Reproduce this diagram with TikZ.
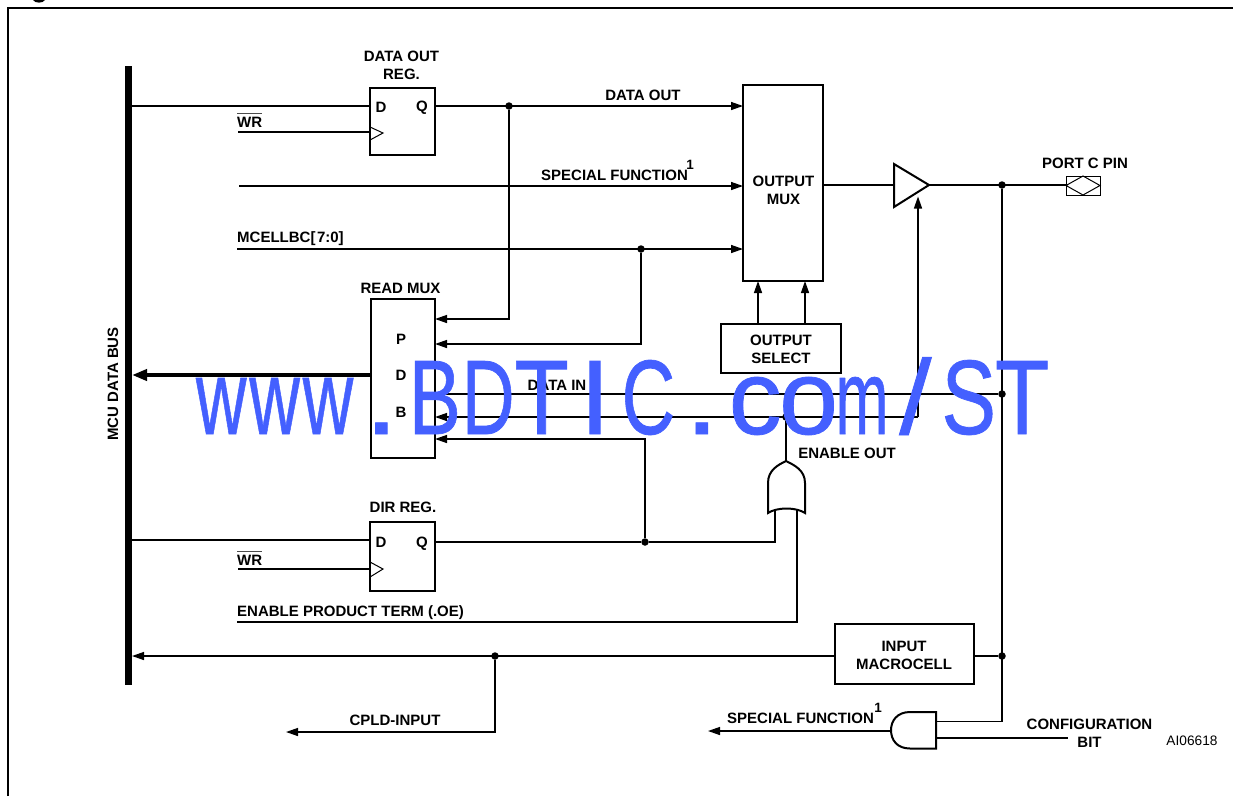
\documentclass[tikz,border=0pt]{standalone}
\usepackage{fontspec}
\setmainfont{Liberation Sans}
\usetikzlibrary{arrows.meta}
\definecolor{wm}{RGB}{68,96,255}
\newfontfamily\wmfont[FakeBold=0.7]{Liberation Sans}
\newcommand{\wl}[2]{\makebox[53.4pt][c]{\scalebox{#1}[1]{#2}}}
\tikzset{
  wire/.style={line width=1.4pt,line join=miter},
  arr/.style={wire,-{Triangle[length=12pt,width=8pt]}},
  thickarr/.style={line width=3.8pt,-{Triangle[length=15pt,width=11pt]}},
  box/.style={draw,line width=2pt,rectangle,inner sep=0pt,outer sep=0pt,fill=white},
  gate/.style={draw,line width=2pt,fill=white,line join=miter},
  lab/.style={font=\bfseries\fontsize{15}{18}\selectfont,inner sep=0pt,align=center},
  sup/.style={font=\bfseries\fontsize{13.5}{15}\selectfont,inner sep=0pt},
  dotnode/.style={circle,fill=black,inner sep=0pt,minimum size=7.5pt},
  overbar/.style={line width=.9pt,black!70},
}
\begin{document}
\begin{tikzpicture}[x=1pt,y=-1pt]
\useasboundingbox (0,0) rectangle (1233,796);
\fill (33,0) .. controls (35,3.5) and (43,3.5) .. (45,0) -- cycle;
% frame
\draw[line width=2pt] (8,796) -- (8,8) -- (1233,8);
% bus
\node[fill=black,inner sep=0pt,outer sep=0pt,minimum width=7pt,minimum height=619pt] (bus) at (128.5,375.5) {};
\node[lab,rotate=90] (buslab) at (113,384) {MCU DATA BUS};
% boxes
\node[box,minimum width=65pt,minimum height=67pt] (regA) at (402.5,121.5) {};
\node[box,minimum width=65pt,minimum height=69pt] (regB) at (402.5,556.5) {};
\node[box,minimum width=64pt,minimum height=159pt] (rmux) at (403,378.5) {};
\node[box,minimum width=80pt,minimum height=196pt] (omux) at (783,183) {};
\node[box,minimum width=120pt,minimum height=49pt] (osel) at (781,348.5) {};
\node[box,minimum width=139pt,minimum height=60pt] (imc) at (904.5,654) {};
\node[draw,line width=1pt,inner sep=0pt,outer sep=0pt,minimum width=34pt,minimum height=19pt] (port) at (1083,185.5) {};
% coordinates
\coordinate (wrA) at (238,132);
\coordinate (wrB) at (238,569);
\coordinate (sfs) at (239,186);
\coordinate (mcs) at (237,249);
\coordinate (eps) at (237,622);
\coordinate (cfg) at (1068,738);
\coordinate (cplde) at (286,732);
\coordinate (sfe) at (708,731);
\coordinate (bufin) at (894,185);
\coordinate (bufout) at (929,185);
\coordinate (buftop) at (894,164);
\coordinate (bufbot) at (894,207);
\coordinate (bufen) at (918,196.5);
\coordinate (orout) at (786,461);
\coordinate (orA) at (775,510);
\coordinate (orB) at (797,510);
\coordinate (andA) at (936,721.5);
\coordinate (andB) at (936,738);
\coordinate (andO) at (891,731);
% dots
\node[dotnode] (j1) at (509,106) {};
\node[dotnode] (j2) at (641,249) {};
\node[dotnode] (j3) at (1002,185) {};
\node[dotnode] (j4) at (1002,394) {};
\node[dotnode] (j5) at (786,417) {};
\node[dotnode] (j6) at (645,542) {};
\node[dotnode] (j7) at (1002,656) {};
\node[dotnode] (j8) at (495,656) {};
% wires
\draw[wire] (bus.east |- 0,106) -- (regA.west |- 0,106);
\draw[wire] (wrA) -- (regA.west |- wrA);
\draw[arr] (regA.east |- j1) -- (omux.west |- j1);
\draw[arr] (j1) -- (j1 |- 0,319) -- (rmux.east |- 0,319);
\draw[arr] (sfs) -- (omux.west |- sfs);
\draw[arr] (mcs) -- (omux.west |- mcs);
\draw[arr] (j2) -- (j2 |- 0,344) -- (rmux.east |- 0,344);
\draw[thickarr] (rmux.west |- 0,375) -- (bus.east |- 0,375);
\draw[wire] (rmux.east |- j4) -- (j4);
\draw[arr] (bufen |- j5) -- (rmux.east |- j5);
\draw[arr] (bufen |- j5) -- (bufen);
\draw[arr] (j6) -- (j6 |- 0,439) -- (rmux.east |- 0,439);
\draw[wire] (j5) -- (orout);
\draw[wire] (regB.east |- j6) -- (j6) -- (orA |- j6) -- (orA);
\draw[wire] (eps) -- (orB |- eps) -- (orB);
\draw[wire] (bus.east |- 0,540) -- (regB.west |- 0,540);
\draw[wire] (wrB) -- (regB.west |- wrB);
\draw[arr] (osel.north -| 758,0) -- (omux.south -| 758,0);
\draw[arr] (osel.north -| 805,0) -- (omux.south -| 805,0);
\draw[wire] (omux.east |- bufin) -- (bufin);
\draw[wire] (bufout) -- (port.west |- bufout);
\draw[wire] (j3) -- (j3 |- andA) -- (andA);
\draw[wire] (imc.east |- j7) -- (j7);
\draw[arr] (imc.west |- j7) -- (bus.east |- j7);
\draw[arr] (j8) -- (j8 |- cplde) -- (cplde);
\draw[wire] (andB) -- (cfg);
\draw[arr] (andO) -- (sfe);
% gates and small symbols
\draw[gate] (buftop) -- (bufout) -- (bufbot) -- cycle;
\draw[line width=1pt] (regA.west |- 0,127) -- (383,133) -- (regA.west |- 0,140);
\draw[line width=1pt] (regB.west |- 0,562) -- (383,569) -- (regB.west |- 0,577);
\draw[line width=1pt] (port.west) -- (port.north) -- (port.east) -- (port.south) -- cycle;
\draw[gate] (768,513) -- (768,483) .. controls (768,470) and (778,465) .. (786,461)
   .. controls (794,465) and (805,470) .. (805,483) -- (805,513)
   .. controls (796,507) and (777,507) .. (768,513) -- cycle;
\draw[gate] (936,712) -- (910,712) .. controls (897,712) and (891,721) .. (891,730)
   .. controls (891,740) and (897,748.5) .. (910,748.5) -- (936,748.5) -- cycle;
% labels
\node[lab] (tA) at (401.5,65.5) {DATA OUT\\REG.};
\node[lab] (tD1) at (381,107) {D};
\node[lab] (tQ1) at (422,108) {Q};
\node[lab,anchor=west] (tW1) at (237,122.5) {WR};
\draw[overbar] (tW1.west |- 0,113.5) -- (tW1.east |- 0,113.5);
\node[lab] (tDO) at (643,95) {DATA OUT};
\node[lab] (tOM) at (783.5,190.5) {OUTPUT\\MUX};
\node[lab] (tSF) at (614.5,175.5) {SPECIAL FUNCTION};
\node[sup] (tS1) at (690,165) {1};
\node[lab,anchor=west] (tMC) at (237,239) {MCELLBC[\kern1.5pt7:0]};
\node[lab] (tRM) at (400.5,288) {READ MUX};
\node[lab] (tP) at (401,339) {P};
\node[lab] (tDD) at (401,375) {D};
\node[lab] (tB) at (401,412) {B};
\node[lab] (tDI) at (557,385) {DATA IN};
\node[lab] (tOS) at (781,349.5) {OUTPUT\\SELECT};
\node[lab] (tPC) at (1085,163) {PORT C PIN};
\node[lab] (tEN) at (847,453.5) {ENABLE OUT};
\node[lab] (tDR) at (403,507.5) {DIR REG.};
\node[lab] (tD2) at (381,542) {D};
\node[lab] (tQ2) at (422,543.5) {Q};
\node[lab,anchor=west] (tW2) at (237,560) {WR};
\draw[overbar] (tW2.west |- 0,551) -- (tW2.east |- 0,551);
\node[lab,anchor=west] (tEP) at (237,613) {ENABLE PRODUCT TERM (.OE)};
\node[lab] (tIM) at (904,655.5) {INPUT\\MACROCELL};
\node[lab] (tCP) at (395,720.5) {CPLD-INPUT};
\node[lab] (tSF2) at (800.5,718.5) {SPECIAL FUNCTION};
\node[sup] (tS2) at (878,708) {1};
\node[lab] (tCF) at (1089.5,733.5) {CONFIGURATION\\BIT};
\node[inner sep=0pt,font=\fontsize{13.7}{15}\selectfont] (tAI) at (1192,741) {AI06618};
% watermark
\node[inner sep=0pt,text=wm,font=\wmfont\fontsize{106}{106}\selectfont,anchor=base west] (wmk) at (194.3,434) {\wl{.66}{w}\wl{.66}{w}\wl{.66}{w}\wl{1.15}{.}\wl{.74}{B}\wl{.69}{D}\wl{.84}{T}\wl{1.05}{I}\wl{.7}{C}\wl{1.15}{.}\wl{1}{c}\wl{1}{o}\wl{.6}{m}\wl{1.1}{/}\wl{.77}{S}\wl{.84}{T}};
\end{tikzpicture}
\end{document}
